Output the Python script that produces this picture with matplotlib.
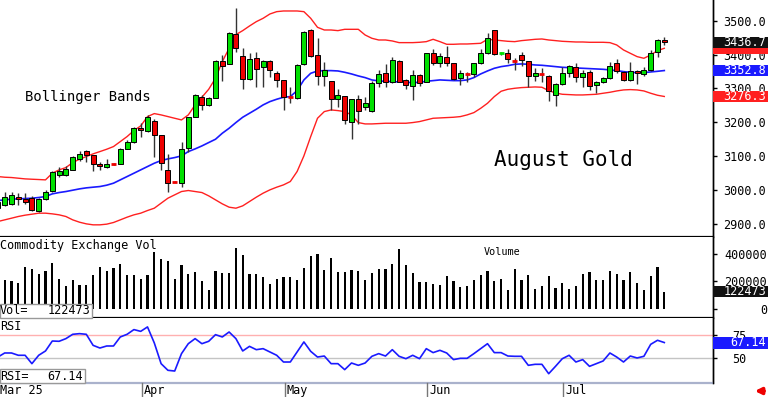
import numpy as np
import pandas as pd
import matplotlib
matplotlib.use('Agg')
import matplotlib.pyplot as plt
from matplotlib.patches import Rectangle
from matplotlib.lines import Line2D

plt.rcParams['font.family'] = 'DejaVu Sans Mono'

# trading days shown (COMEX, Mar 3 - Jul 23 2025)
holidays = ['2025-04-18', '2025-05-26', '2025-06-19', '2025-07-04']
days = pd.bdate_range('2025-03-03', '2025-07-23')
days = days[~days.isin(pd.to_datetime(holidays))]

# August gold daily OHLC
opens = [2947, 2956, 2959, 2979, 2973, 2978, 2937, 2973, 2996, 3045, 3045, 3060, 3091, 3114, 3104, 3077, 3068, 3078,
         3077, 3122, 3141, 3183, 3173, 3205, 3163, 3058, 3026, 3020, 3124, 3217, 3274, 3251, 3273, 3382, 3372, 3461,
         3396, 3327, 3389, 3362, 3381, 3347, 3325, 3277, 3273, 3371, 3473, 3399, 3337, 3322, 3268, 3278, 3202, 3269,
         3244, 3232, 3317, 3345, 3320, 3382, 3325, 3307, 3340, 3320, 3404, 3374, 3394, 3374, 3330, 3346, 3343, 3374,
         3404, 3471, 3403, 3404, 3383, 3399, 3381, 3337, 3344, 3337, 3281, 3313, 3347, 3364, 3333, 3348, 3310, 3320,
         3330, 3374, 3348, 3325, 3352, 3343, 3353, 3409, 3442]
highs = [2973, 2993, 2993, 2991, 2991, 2983, 2978, 2999, 3055, 3067, 3070, 3101, 3114, 3117, 3104, 3084, 3091, 3079,
         3124, 3148, 3187, 3197, 3222, 3209, 3163, 3106, 3028, 3143, 3217, 3284, 3281, 3276, 3384, 3399, 3468, 3536,
         3418, 3406, 3409, 3384, 3384, 3350, 3325, 3303, 3371, 3470, 3474, 3448, 3379, 3322, 3298, 3278, 3269, 3281,
         3276, 3321, 3353, 3372, 3392, 3384, 3327, 3353, 3342, 3406, 3416, 3406, 3425, 3376, 3355, 3348, 3376, 3416,
         3465, 3473, 3407, 3416, 3389, 3409, 3382, 3359, 3359, 3340, 3315, 3364, 3369, 3374, 3355, 3353, 3323, 3335,
         3379, 3386, 3350, 3379, 3355, 3364, 3414, 3445, 3451]
lows = [2932, 2954, 2956, 2955, 2959, 2937, 2935, 2971, 2994, 3040, 3043, 3058, 3087, 3084, 3055, 3060, 3065, 3074,
        3076, 3121, 3138, 3158, 3171, 3099, 3058, 2994, 3023, 3009, 3112, 3215, 3237, 3249, 3271, 3322, 3371, 3409,
        3298, 3325, 3303, 3303, 3335, 3303, 3237, 3256, 3270, 3369, 3394, 3310, 3307, 3237, 3246, 3195, 3150, 3195,
        3235, 3230, 3303, 3303, 3315, 3318, 3298, 3266, 3307, 3318, 3369, 3364, 3366, 3325, 3310, 3320, 3333, 3372,
        3402, 3399, 3400, 3376, 3355, 3366, 3305, 3323, 3320, 3263, 3248, 3310, 3335, 3320, 3303, 3294, 3288, 3317,
        3328, 3347, 3323, 3323, 3313, 3337, 3350, 3392, 3428]
closes = [2966, 2981, 2986, 2973, 2966, 2940, 2974, 2994, 3052, 3055, 3063, 3097, 3107, 3104, 3077, 3071, 3077, 3076,
          3122, 3141, 3183, 3176, 3215, 3163, 3079, 3022, 3024, 3122, 3215, 3281, 3251, 3273, 3382, 3367, 3463, 3418,
          3327, 3387, 3357, 3382, 3353, 3325, 3276, 3275, 3369, 3468, 3396, 3337, 3355, 3268, 3280, 3207, 3269, 3232,
          3256, 3317, 3343, 3320, 3384, 3320, 3310, 3340, 3315, 3404, 3374, 3396, 3374, 3327, 3345, 3344, 3374, 3404,
          3448, 3402, 3405, 3386, 3381, 3384, 3337, 3345, 3342, 3291, 3312, 3347, 3366, 3333, 3347, 3307, 3320, 3330,
          3366, 3350, 3325, 3352, 3345, 3355, 3406, 3443, 3436.7]

# Bollinger bands
upper_band = [3040.0, 3038.0, 3037.1, 3035.1, 3033.1, 3032.1, 3031.2, 3030.2, 3049.8, 3059.7, 3066.5, 3081.3,
              3091.1, 3099.0, 3106.9, 3113.7, 3120.6, 3128.5, 3143.2, 3158.0, 3175.7, 3189.4, 3217.0, 3225.8,
              3221.9, 3217.0, 3212.0, 3207.1, 3221.9, 3251.4, 3274.0, 3297.6, 3330.0, 3379.1, 3418.5, 3458.8,
              3470.6, 3484.3, 3497.1, 3507.0, 3519.7, 3526.6, 3528.6, 3528.6, 3528.6, 3526.6, 3507.0, 3480.4,
              3472.5, 3472.5, 3470.6, 3474.5, 3474.5, 3474.5, 3457.8, 3448.0, 3443.0, 3443.0, 3440.1, 3435.2,
              3435.2, 3435.2, 3436.2, 3438.1, 3445.0, 3438.1, 3430.3, 3430.3, 3431.2, 3431.2, 3432.2, 3433.2,
              3445.0, 3443.0, 3441.1, 3439.1, 3438.1, 3441.1, 3443.0, 3445.0, 3446.0, 3443.0, 3441.1, 3439.1,
              3438.1, 3437.1, 3437.1, 3436.2, 3436.2, 3436.2, 3435.2, 3428.3, 3413.6, 3403.7, 3393.9, 3389.0,
              3398.8, 3411.6, 3418.5]
mid_band = [2969.2, 2971.2, 2973.2, 2974.1, 2975.1, 2976.1, 2978.1, 2981.0, 2988.9, 2992.8, 2995.8, 2999.7,
            3003.6, 3006.6, 3008.6, 3010.5, 3014.5, 3020.4, 3030.2, 3040.0, 3049.8, 3059.7, 3069.5, 3079.3,
            3087.2, 3092.1, 3096.0, 3101.0, 3113.7, 3121.6, 3130.4, 3140.3, 3150.1, 3167.8, 3182.5, 3199.3,
            3215.0, 3226.8, 3238.6, 3251.4, 3261.2, 3268.1, 3274.0, 3275.9, 3293.6, 3325.1, 3344.7, 3351.6,
            3352.6, 3352.6, 3351.6, 3347.7, 3342.8, 3336.9, 3332.0, 3325.1, 3322.1, 3321.1, 3320.2, 3319.2,
            3318.2, 3317.2, 3318.2, 3321.1, 3323.1, 3325.1, 3324.1, 3323.1, 3323.1, 3325.1, 3332.0, 3342.8,
            3351.6, 3359.5, 3364.4, 3367.3, 3371.3, 3372.3, 3371.3, 3369.3, 3368.3, 3366.4, 3364.4, 3362.4,
            3361.4, 3360.5, 3359.5, 3358.5, 3357.5, 3356.5, 3354.6, 3352.6, 3349.7, 3347.7, 3346.7, 3346.7,
            3348.7, 3350.6, 3352.8]
lower_band = [2907.3, 2912.2, 2917.1, 2922.1, 2926.0, 2928.9, 2931.9, 2931.9, 2929.9, 2927.0, 2922.1, 2912.2,
              2905.3, 2900.4, 2897.5, 2897.5, 2899.5, 2904.4, 2912.2, 2920.1, 2927.0, 2931.9, 2939.7, 2946.6,
              2961.4, 2976.1, 2986.0, 2995.8, 2998.8, 2995.8, 2992.8, 2983.0, 2971.2, 2959.4, 2949.6, 2946.6,
              2953.5, 2966.3, 2979.1, 2990.9, 3000.7, 3008.6, 3015.4, 3025.3, 3054.8, 3101.0, 3158.0, 3212.0,
              3231.7, 3236.6, 3234.6, 3231.7, 3221.9, 3199.3, 3195.3, 3195.3, 3196.3, 3197.3, 3197.3, 3197.3,
              3197.3, 3199.3, 3202.2, 3207.1, 3212.0, 3213.0, 3214.0, 3215.0, 3216.9, 3221.9, 3228.7, 3241.5,
              3256.3, 3275.9, 3291.7, 3297.6, 3300.5, 3302.5, 3303.5, 3304.4, 3303.5, 3293.6, 3286.7, 3282.8,
              3281.8, 3280.8, 3280.8, 3281.8, 3282.8, 3285.8, 3288.7, 3292.6, 3295.6, 3296.6, 3295.6, 3292.6,
              3285.8, 3279.9, 3276.3]

volume = [200000, 210000, 201000, 189000, 303000, 288000, 254000, 274000, 335000, 215000, 162000, 208000, 172000,
          174000, 242000, 303000, 271000, 293000, 322000, 245000, 242000, 213000, 245000, 412000, 364000, 347000,
          215000, 318000, 254000, 264000, 198000, 133000, 271000, 259000, 259000, 444000, 391000, 249000, 254000,
          227000, 179000, 213000, 230000, 227000, 206000, 298000, 381000, 395000, 279000, 371000, 266000, 266000,
          283000, 271000, 210000, 259000, 286000, 288000, 322000, 437000, 318000, 262000, 193000, 193000, 181000,
          174000, 235000, 198000, 154000, 164000, 210000, 242000, 276000, 198000, 215000, 137000, 288000, 206000,
          242000, 140000, 164000, 235000, 150000, 186000, 145000, 164000, 249000, 266000, 210000, 210000, 274000,
          249000, 206000, 266000, 186000, 133000, 237000, 300000, 122473]

rsi = [51.4, 55.8, 55.8, 53.3, 53.3, 44.2, 53.3, 58.0, 68.8, 68.5, 71.4, 76.1, 76.8, 76.1, 64.1, 61.2, 63.4, 63.4,
       73.2, 76.1, 81.2, 79.3, 84.1, 66.7, 44.2, 37.0, 36.2, 55.1, 65.9, 71.4, 65.9, 68.5, 75.7, 73.2, 78.6, 71.4,
       58.0, 63.0, 59.4, 60.5, 56.9, 53.3, 46.0, 46.0, 56.9, 67.8, 57.6, 51.4, 52.5, 44.2, 44.2, 37.7, 44.9, 42.4,
       44.9, 52.2, 55.1, 52.5, 59.4, 52.2, 49.6, 53.3, 49.6, 60.5, 56.2, 58.7, 55.8, 48.6, 50.0, 50.0, 55.1, 60.5,
       65.9, 56.2, 56.2, 52.5, 52.2, 52.2, 42.4, 43.5, 43.5, 33.3, 41.3, 49.6, 53.3, 46.0, 48.6, 41.3, 44.2, 47.1,
       55.8, 51.4, 46.0, 52.5, 50.4, 52.2, 65.2, 69.6, 67.14]

price_ticks = [2900, 3000, 3100, 3200, 3300, 3400, 3500]
vol_ticks = [0, 200000, 400000]
rsi_ticks = [50, 75]

W, H = 768, 397
fig = plt.figure(figsize=(W / 100, H / 100), dpi=100)
fig.patch.set_facecolor('white')

def panel(top, bottom):
    return fig.add_axes([0, 1 - bottom / H, 713 / W, (bottom - top) / H])

ax1 = panel(0, 237)
ax2 = panel(237, 318)
ax3 = panel(318, 383)

x = np.arange(len(days))
o = np.array(opens, float)
h = np.array(highs, float)
l = np.array(lows, float)
c = np.array(closes, float)
up = c >= o
cols = np.where(up, '#00e000', '#ee0000')
body = np.abs(c - o) > 3

ax1.vlines(x, l, h, color='#333333', lw=1, zorder=3)
ax1.bar(x[body], np.abs(c - o)[body], bottom=np.minimum(o, c)[body], width=0.72,
        color=cols[body], edgecolor='black', linewidth=0.7, zorder=4)
ax1.hlines(c[~body], x[~body] - 0.36, x[~body] + 0.36, colors=cols[~body], lw=2, zorder=4)
ax1.plot(x, upper_band, color='#ff2020', lw=1, zorder=2)
ax1.plot(x, lower_band, color='#ff2020', lw=1, zorder=2)
ax1.plot(x, mid_band, color='#1a1aff', lw=1.2, zorder=2)

ax2.bar(x, volume, width=0.3, color='black')

ax3.axhline(75, color='#ffb0b0', lw=1)
ax3.axhline(50, color='#c4c4c4', lw=1)
ax3.plot(x, rsi, color='#1a1aff', lw=1.2)

xl = (1 - 4.7 / 6.8, 1 + (713 - 4.7) / 6.8)
for ax in (ax1, ax2, ax3):
    ax.set_xlim(*xl)
    ax.set_xticks([])
    ax.spines['left'].set_visible(False)
    ax.spines['top'].set_visible(False)
    ax.spines['right'].set_linewidth(1)
    ax.yaxis.tick_right()
    ax.tick_params(axis='y', length=3, width=1, labelsize=8.5, colors='black')

ax1.spines['bottom'].set_linewidth(1.6)
ax2.spines['bottom'].set_linewidth(1.6)
ax3.spines['bottom'].set_color('#aab2cc')
ax3.spines['bottom'].set_linewidth(1.6)

ax1.set_ylim(2861.6, 3561)
ax2.set_ylim(-69300, 521900)
ax3.set_ylim(23.2, 93.8)

ax1.set_yticks(price_ticks)
ax1.set_yticklabels([f'{v:.1f}' for v in price_ticks])
ax1.tick_params(axis='y', pad=4.5)
ax2.set_yticks(vol_ticks)
ax2.set_yticklabels([str(v) for v in vol_ticks])
for t in ax2.get_yticklabels():
    t.set_horizontalalignment('right')
ax2.tick_params(axis='y', pad=36)
ax3.set_yticks(rsi_ticks)
ax3.set_yticklabels([str(v) for v in rsi_ticks])
ax3.tick_params(axis='y', pad=10.8)

# texts inside panels
ax1.text(25 / 713, 1 - 97 / 237, 'Bollinger Bands', transform=ax1.transAxes, fontsize=10, va='center')
ax1.text(494 / 713, 1 - 160 / 237, 'August Gold', transform=ax1.transAxes, fontsize=15, va='center')
ax2.text(0, (318 - 245) / 81, 'Commodity Exchange Vol', transform=ax2.transAxes, fontsize=8.5, va='center')
ax2.text(484 / 713, (318 - 252) / 81, 'Volume', transform=ax2.transAxes, fontsize=7.3, va='center')
ax3.text(0, (383 - 326) / 65, 'RSI', transform=ax3.transAxes, fontsize=8.5, va='center')

# value boxes on the right axis
z = [10]
def value_box(ax, val, txt, fc, hgt=11):
    ypx = ax.transData.transform((0, val))[1]
    fig.add_artist(Rectangle((713 / W, (ypx - hgt / 2) / H), 55 / W, hgt / H, transform=fig.transFigure,
                             facecolor=fc, edgecolor='none', zorder=z[0]))
    if txt:
        fig.text(766 / W, ypx / H, txt, ha='right', va='center', color='white', fontsize=8.5, zorder=z[0] + 1)
    z[0] += 2

value_box(ax1, upper_band[-1], None, '#ff2020')
value_box(ax1, closes[-1], f'{closes[-1]:.1f}', '#111111')
value_box(ax1, mid_band[-1], f'{mid_band[-1]:.1f}', '#1a1aff')
value_box(ax1, lower_band[-1], f'{lower_band[-1]:.1f}', '#ff2020')
value_box(ax2, volume[-1], str(volume[-1]), '#111111')
value_box(ax3, rsi[-1], f'{rsi[-1]:.2f}', '#1a1aff', hgt=12)

# readout boxes bottom-left of lower panels
def readout(top, bottom, width, name, val):
    fig.add_artist(Rectangle((0, 1 - bottom / H), width / W, (bottom - top) / H, transform=fig.transFigure,
                             facecolor='white', edgecolor='#999999', lw=1, zorder=5))
    yc = 1 - (top + bottom) / 2 / H
    fig.text(0, yc, name, ha='left', va='center', fontsize=8.5, zorder=6)
    fig.text((width - 2) / W, yc, val, ha='right', va='center', fontsize=8.5, zorder=6)

readout(303.5, 317.5, 92, 'Vol=', str(volume[-1]))
readout(369, 383, 85, 'RSI=', f'{rsi[-1]:.2f}')

# date row
fig.text(0, 1 - 390.5 / H, f'{days[0]:%b} {days[0]:%y}', ha='left', va='center', fontsize=8.5)
months = pd.Series(days.month)
firsts = months.index[months != months.shift()].tolist()[1:]
for i in firsts:
    px = ax3.transData.transform((x[i], 0))[0] + 1
    fig.add_artist(Line2D([px / W, px / W], [0, 14 / H], transform=fig.transFigure, color='#777777', lw=1))
    fig.text((px + 2) / W, 1 - 390.5 / H, f'{days[i]:%b}', ha='left', va='center', fontsize=8.5)

fig.add_artist(Line2D([713 / W, 713 / W], [14 / H, 1], transform=fig.transFigure, color='black', lw=1))
plt.annotate('', xy=(752, 6), xytext=(767, 6), xycoords='figure pixels',
             arrowprops=dict(arrowstyle='-|>', color='#ee0000', lw=2.5, mutation_scale=9))

plt.savefig('out.png', dpi=100)
